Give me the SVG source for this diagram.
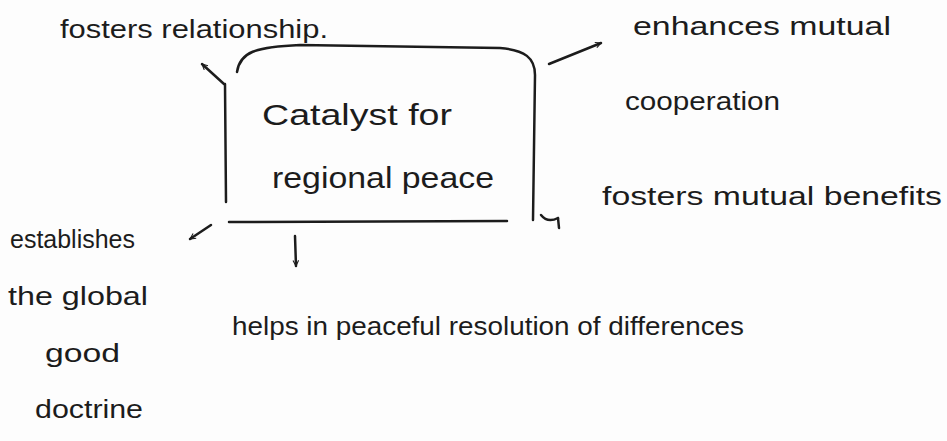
<svg xmlns="http://www.w3.org/2000/svg" width="947" height="441" viewBox="0 0 947 441">
<style>
.t{font-family:"Liberation Sans",Arial,sans-serif;fill:#1c1c1c;font-size:26px}
.c{font-size:30px}
.ln{fill:none;stroke:#1c1c1c;stroke-width:2.5;stroke-linecap:round;stroke-linejoin:round}
</style>
<defs>
<marker id="ah" viewBox="0 0 10 10" refX="9" refY="5" markerWidth="7" markerHeight="7" orient="auto" markerUnits="userSpaceOnUse">
<path d="M1,1 L9,5 L1,9" fill="none" stroke="#1c1c1c" stroke-width="1.6"/>
</marker>
</defs>
<rect width="947" height="441" fill="#fdfdfd"/>
<g id="center">
<path class="ln" d="M237,72 C240,52 255,47 300,45 L500,48 C525,50 535,58 535,75 L533,220"/>
<path class="ln" d="M225,84 L226,202"/>
<path class="ln" d="M229,222 L507,221"/>
<text class="t c" x="262" y="125" textLength="190" lengthAdjust="spacingAndGlyphs">Catalyst for</text>
<text class="t c" x="272" y="188" textLength="222" lengthAdjust="spacingAndGlyphs">regional peace</text>
</g>
<g id="n-relationship">
<text class="t" x="60" y="38" textLength="268" lengthAdjust="spacingAndGlyphs">fosters relationship.</text>
</g>
<g id="n-cooperation">
<text class="t" x="633" y="35" textLength="258" lengthAdjust="spacingAndGlyphs">enhances mutual</text>
<text class="t" x="625" y="110" textLength="155" lengthAdjust="spacingAndGlyphs">cooperation</text>
</g>
<g id="n-benefits">
<text class="t" x="602" y="205" textLength="340" lengthAdjust="spacingAndGlyphs">fosters mutual benefits</text>
</g>
<g id="n-doctrine">
<text class="t" x="10" y="248" textLength="125" lengthAdjust="spacingAndGlyphs">establishes</text>
<text class="t" x="8" y="305" textLength="140" lengthAdjust="spacingAndGlyphs">the global</text>
<text class="t" x="45" y="362" textLength="75" lengthAdjust="spacingAndGlyphs">good</text>
<text class="t" x="35" y="418" textLength="108" lengthAdjust="spacingAndGlyphs">doctrine</text>
</g>
<g id="n-resolution">
<text class="t" x="232" y="335" textLength="512" lengthAdjust="spacingAndGlyphs">helps in peaceful resolution of differences</text>
</g>
<g id="connectors">
<path class="ln" d="M224,84 L202,64" marker-end="url(#ah)"/>
<path class="ln" d="M549,64 L601,43" marker-end="url(#ah)"/>
<path class="ln" d="M541,215 C545,220 550,222 558,218"/>
<path class="ln" d="M558,218 L559,228"/>
<path class="ln" d="M211,225 L190,239" marker-end="url(#ah)"/>
<path class="ln" d="M295,236 L296,266" marker-end="url(#ah)"/>
</g>
</svg>
